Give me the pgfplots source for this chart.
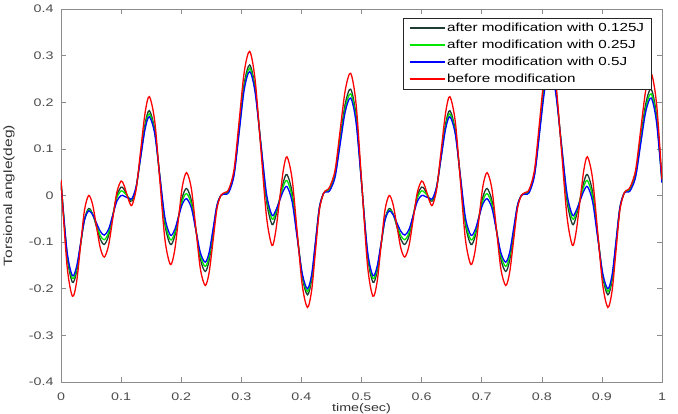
\documentclass[border=0pt]{standalone}
\usepackage{fontspec}
\setmainfont{Liberation Sans}[FakeStretch=1.3]
\usepackage{pgfplots}
\usepackage{pgfplotstable}
\pgfplotsset{compat=1.18}
\pgfplotsset{legend image code/.code={\draw[#1, line width=1.6pt] (0pt,0.5pt) -- (35pt,0.5pt);}}
\definecolor{cK}{RGB}{30,60,50}
\definecolor{cG}{RGB}{0,230,0}
\definecolor{cB}{RGB}{0,0,255}
\definecolor{cR}{RGB}{255,0,0}
\pgfplotstableread{
x r k g b
0.000 0.034 0.030 0.029 0.027
0.010 -0.150 -0.128 -0.123 -0.119
0.019 -0.216 -0.186 -0.178 -0.172
0.026 -0.185 -0.163 -0.157 -0.152
0.0325 -0.108 -0.107 -0.105 -0.103
0.039 -0.032 -0.051 -0.053 -0.053
0.046 0.000 -0.028 -0.031 -0.033
0.0525 -0.019 -0.039 -0.040 -0.041
0.059 -0.066 -0.067 -0.063 -0.059
0.0655 -0.113 -0.094 -0.086 -0.077
0.072 -0.132 -0.105 -0.095 -0.085
0.079 -0.108 -0.087 -0.080 -0.073
0.086 -0.051 -0.044 -0.043 -0.043
0.093 0.007 0.000 -0.005 -0.012
0.100 0.031 0.018 0.010 0.000
0.1045 0.023 0.014 0.007 -0.001
0.109 0.005 0.003 0.001 -0.004
0.1135 -0.013 -0.008 -0.006 -0.006
0.118 -0.021 -0.012 -0.009 -0.007
0.125 0.013 0.016 0.018 0.019
0.1325 0.096 0.085 0.083 0.081
0.140 0.178 0.154 0.148 0.143
0.147 0.212 0.182 0.175 0.169
0.156 0.159 0.140 0.136 0.132
0.1645 0.032 0.039 0.040 0.042
0.173 -0.095 -0.063 -0.056 -0.048
0.182 -0.148 -0.105 -0.095 -0.085
0.189 -0.119 -0.088 -0.081 -0.074
0.1955 -0.050 -0.045 -0.046 -0.046
0.202 0.020 -0.003 -0.011 -0.018
0.209 0.049 0.015 0.004 -0.007
0.217 0.014 -0.011 -0.019 -0.027
0.2245 -0.072 -0.074 -0.074 -0.075
0.232 -0.158 -0.137 -0.129 -0.123
0.240 -0.193 -0.163 -0.152 -0.143
0.2465 -0.165 -0.139 -0.130 -0.122
0.253 -0.097 -0.082 -0.076 -0.072
0.2595 -0.028 -0.024 -0.022 -0.021
0.266 0.000 0.000 0.000 0.000
0.2725 0.0065 0.005 0.004 0.003
0.279 0.013 0.010 0.008 0.006
0.288 0.056 0.049 0.047 0.044
0.2965 0.161 0.145 0.141 0.136
0.305 0.266 0.241 0.234 0.228
0.314 0.309 0.280 0.273 0.266
0.323 0.248 0.230 0.226 0.221
0.3325 0.101 0.109 0.112 0.112
0.342 -0.046 -0.012 -0.003 0.003
0.351 -0.107 -0.062 -0.050 -0.042
0.357 -0.079 -0.046 -0.038 -0.033
0.3635 -0.012 -0.009 -0.009 -0.012
0.370 0.055 0.029 0.020 0.010
0.376 0.083 0.045 0.032 0.019
0.3845 0.036 0.007 -0.003 -0.013
0.393 -0.079 -0.084 -0.087 -0.091
0.4015 -0.193 -0.175 -0.171 -0.168
0.410 -0.240 -0.213 -0.206 -0.200
0.417 -0.204 -0.181 -0.175 -0.170
0.4235 -0.118 -0.104 -0.101 -0.098
0.430 -0.031 -0.027 -0.026 -0.025
0.437 0.005 0.005 0.005 0.005
0.442 0.0115 0.010 0.009 0.0075
0.447 0.018 0.015 0.013 0.010
0.456 0.054 0.046 0.043 0.039
0.4645 0.140 0.122 0.116 0.110
0.473 0.226 0.197 0.188 0.180
0.482 0.262 0.228 0.218 0.209
0.491 0.196 0.170 0.163 0.156
0.500 0.034 0.030 0.029 0.027
0.510 -0.150 -0.128 -0.123 -0.119
0.519 -0.216 -0.186 -0.178 -0.172
0.526 -0.185 -0.163 -0.157 -0.152
0.5325 -0.108 -0.107 -0.105 -0.103
0.539 -0.032 -0.051 -0.053 -0.053
0.546 0.000 -0.028 -0.031 -0.033
0.5525 -0.019 -0.039 -0.040 -0.041
0.559 -0.066 -0.067 -0.063 -0.059
0.5655 -0.113 -0.094 -0.086 -0.077
0.572 -0.132 -0.105 -0.095 -0.085
0.579 -0.108 -0.087 -0.080 -0.073
0.586 -0.051 -0.044 -0.043 -0.043
0.593 0.007 0.000 -0.005 -0.012
0.600 0.031 0.018 0.010 0.000
0.6045 0.023 0.014 0.007 -0.001
0.609 0.005 0.003 0.001 -0.004
0.6135 -0.013 -0.008 -0.006 -0.006
0.618 -0.021 -0.012 -0.009 -0.007
0.625 0.013 0.016 0.018 0.019
0.6325 0.096 0.085 0.083 0.081
0.640 0.178 0.154 0.148 0.143
0.647 0.212 0.182 0.175 0.169
0.656 0.159 0.140 0.136 0.132
0.6645 0.032 0.039 0.040 0.042
0.673 -0.095 -0.063 -0.056 -0.048
0.682 -0.148 -0.105 -0.095 -0.085
0.689 -0.119 -0.088 -0.081 -0.074
0.6955 -0.050 -0.045 -0.046 -0.046
0.702 0.020 -0.003 -0.011 -0.018
0.709 0.049 0.015 0.004 -0.007
0.717 0.014 -0.011 -0.019 -0.027
0.7245 -0.072 -0.074 -0.074 -0.075
0.732 -0.158 -0.137 -0.129 -0.123
0.740 -0.193 -0.163 -0.152 -0.143
0.7465 -0.165 -0.139 -0.130 -0.122
0.753 -0.097 -0.082 -0.076 -0.072
0.7595 -0.028 -0.024 -0.022 -0.021
0.766 0.000 0.000 0.000 0.000
0.7725 0.0065 0.005 0.004 0.003
0.779 0.013 0.010 0.008 0.006
0.788 0.056 0.049 0.047 0.044
0.7965 0.161 0.145 0.141 0.136
0.805 0.266 0.241 0.234 0.228
0.814 0.309 0.280 0.273 0.266
0.823 0.248 0.230 0.226 0.221
0.8325 0.101 0.109 0.112 0.112
0.842 -0.046 -0.012 -0.003 0.003
0.851 -0.107 -0.062 -0.050 -0.042
0.857 -0.079 -0.046 -0.038 -0.033
0.8635 -0.012 -0.009 -0.009 -0.012
0.870 0.055 0.029 0.020 0.010
0.876 0.083 0.045 0.032 0.019
0.8845 0.036 0.007 -0.003 -0.013
0.893 -0.079 -0.084 -0.087 -0.091
0.9015 -0.193 -0.175 -0.171 -0.168
0.910 -0.240 -0.213 -0.206 -0.200
0.917 -0.204 -0.181 -0.175 -0.170
0.9235 -0.118 -0.104 -0.101 -0.098
0.930 -0.031 -0.027 -0.026 -0.025
0.937 0.005 0.005 0.005 0.005
0.942 0.0115 0.010 0.009 0.0075
0.947 0.018 0.015 0.013 0.010
0.956 0.054 0.046 0.043 0.039
0.9645 0.140 0.122 0.116 0.110
0.973 0.226 0.197 0.188 0.180
0.982 0.262 0.228 0.218 0.209
0.991 0.196 0.170 0.163 0.156
1.000 0.034 0.030 0.029 0.027
}\data
\begin{document}
\begin{tikzpicture}
\useasboundingbox (-61pt,-32pt) rectangle (617pt,382pt);
\begin{axis}[
  at={(0pt,0pt)}, anchor=south west,
  scale only axis, width=601pt, height=373pt,
  xmin=0, xmax=1, ymin=-0.4, ymax=0.4,
  xtick={0,0.1,0.2,0.3,0.4,0.5,0.6,0.7,0.8,0.9,1},
  ytick={-0.4,-0.3,-0.2,-0.1,0,0.1,0.2,0.3,0.4},
  axis line style={black!45, line width=0.6pt},
  tick style={black!45, line width=0.6pt},
  major tick length=5pt,
  tick align=inside,
  /pgf/number format/assume math mode=true,
  /pgf/number format/fixed,
  ticklabel style={font=\fontsize{11}{13}\selectfont, text=black!70},
  xticklabel style={yshift=-7pt},
  yticklabel style={xshift=-4pt},
  xlabel={time(sec)},
  ylabel={Torsional angle(deg)},
  label style={text=black!80},
  xlabel style={font=\fontsize{11}{13}\selectfont, at={(axis description cs:0.5,-0.056)}, anchor=north, inner sep=0pt},
  ylabel style={font=\fontsize{12}{14}\selectfont, at={(axis description cs:-0.0865,0.5)}, anchor=center, inner sep=0pt},
  legend style={at={(axis description cs:0.9834,0.9759)}, anchor=north east,
    draw=black!85, line width=0.8pt, fill=white,
    font=\fontsize{11.7}{13}\selectfont, inner xsep=6pt, inner ysep=1.5pt, row sep=0pt,
    nodes={inner sep=1.5pt, text height=10.5pt, text depth=3.5pt}},
  legend cell align=left,
]
\addplot[cK, line width=1.3pt, smooth] table[x=x, y=k] {\data};
\addlegendentry{after modification with 0.125J}
\addplot[cG, line width=1.3pt, smooth] table[x=x, y=g] {\data};
\addlegendentry{after modification with 0.25J}
\addplot[cB, line width=1.3pt, smooth] table[x=x, y=b] {\data};
\addlegendentry{after modification with 0.5J}
\addplot[cR, line width=1.3pt, smooth] table[x=x, y=r] {\data};
\addlegendentry{before modification}
\end{axis}
\end{tikzpicture}
\end{document}
